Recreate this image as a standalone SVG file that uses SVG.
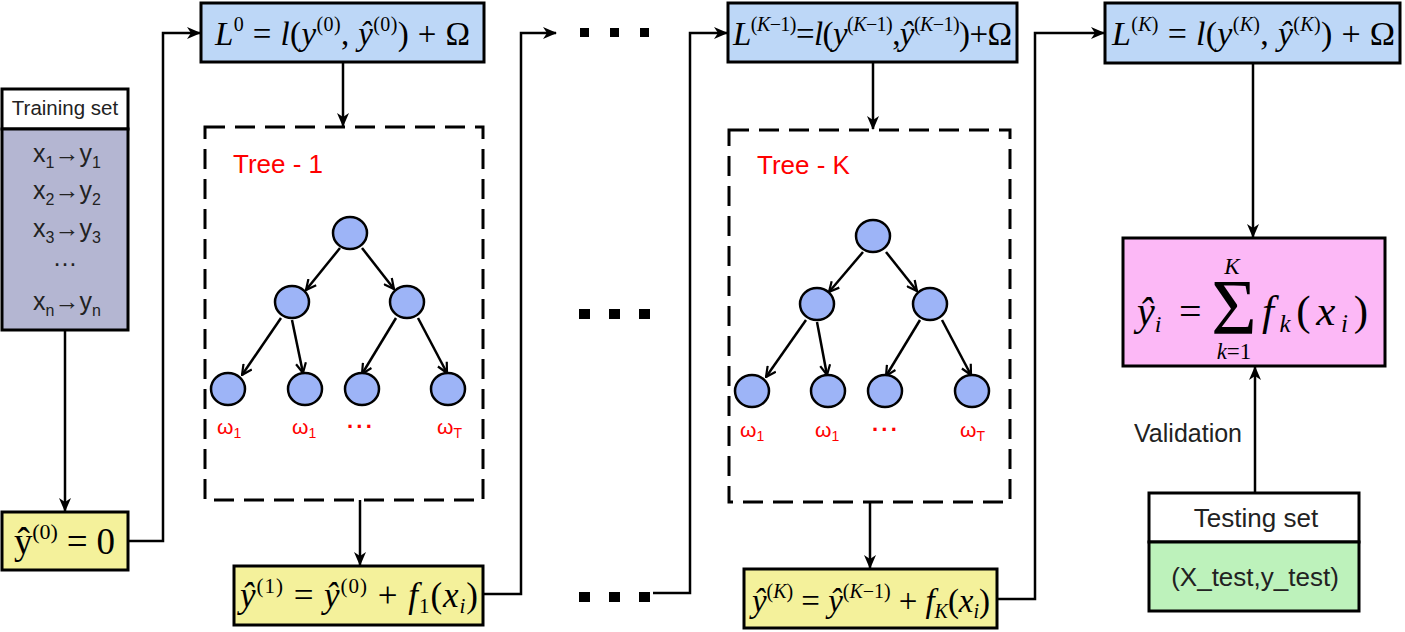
<svg xmlns="http://www.w3.org/2000/svg" width="1405" height="632" viewBox="0 0 1405 632">
<style>
.box{stroke:#000;stroke-width:3}
.conn{fill:none;stroke:#000;stroke-width:2.5}
.tconn{fill:none;stroke:#000;stroke-width:2.5}
.dash{fill:none;stroke:#000;stroke-width:3;stroke-dasharray:20 10}
.node{fill:#9db4f7;stroke:#000;stroke-width:2.5}
.sans{font-family:"Liberation Sans",Arial,sans-serif}
.math{font-family:"Liberation Serif","Times New Roman",serif;font-style:italic}
.up{font-family:"Liberation Serif","Times New Roman",serif}
.red{fill:#ff0000}
.sq{fill:#000}
</style>
<defs>
<marker id="arr" viewBox="0 0 14 12" refX="13" refY="6" markerWidth="14" markerHeight="12" markerUnits="userSpaceOnUse" orient="auto">
<path d="M0,0 L14,6 L0,12 L4,6 z" fill="#000"/>
</marker>
<marker id="tarr" viewBox="0 0 12 12" refX="11" refY="6" markerWidth="12" markerHeight="12" markerUnits="userSpaceOnUse" orient="auto">
<path d="M1,1 L11,6 L1,11" fill="none" stroke="#000" stroke-width="2.2"/>
</marker>
</defs>
<rect width="1405" height="632" fill="#fff"/>

<g id="connectors">
<path class="conn" d="M65,330 V511" marker-end="url(#arr)"/>
<path class="conn" d="M128,541 H163 V33 H200" marker-end="url(#arr)"/>
<path class="conn" d="M343,62 V126" marker-end="url(#arr)"/>
<path class="conn" d="M360,500 V565" marker-end="url(#arr)"/>
<path class="conn" d="M483,594 H521 V33 H556" marker-end="url(#arr)"/>
<path class="conn" d="M653,593 H690 V33 H727" marker-end="url(#arr)"/>
<path class="conn" d="M873,62 V129" marker-end="url(#arr)"/>
<path class="conn" d="M870,502 V568" marker-end="url(#arr)"/>
<path class="conn" d="M997,599 H1035 V33 H1104" marker-end="url(#arr)"/>
<path class="conn" d="M1253,63 V237" marker-end="url(#arr)"/>
<path class="conn" d="M1255,493 V367" marker-end="url(#arr)"/>
</g>

<g id="dots">
<rect class="sq" x="580" y="28" width="9" height="9"/>
<rect class="sq" x="610" y="28" width="9" height="9"/>
<rect class="sq" x="640" y="28" width="9" height="9"/>
<rect class="sq" x="579" y="309" width="11" height="10"/>
<rect class="sq" x="609" y="309" width="11" height="10"/>
<rect class="sq" x="639" y="309" width="11" height="10"/>
<rect class="sq" x="579" y="592" width="11" height="10"/>
<rect class="sq" x="609" y="592" width="11" height="10"/>
<rect class="sq" x="639" y="592" width="11" height="10"/>
</g>

<g id="training-set">
<rect class="box" x="2" y="89" width="126" height="40" fill="#fff"/>
<rect class="box" x="2" y="129" width="126" height="201" fill="#b4b6d2"/>
<text class="sans" x="65" y="115" font-size="20.5" fill="#222" text-anchor="middle">Training set</text>
<g class="sans" font-size="25" fill="#222" text-anchor="middle">
<text x="67" y="162">x<tspan font-size="16" dy="6">1</tspan><tspan dy="-6">→y</tspan><tspan font-size="16" dy="6">1</tspan></text>
<text x="67" y="199">x<tspan font-size="16" dy="6">2</tspan><tspan dy="-6">→y</tspan><tspan font-size="16" dy="6">2</tspan></text>
<text x="67" y="237">x<tspan font-size="16" dy="6">3</tspan><tspan dy="-6">→y</tspan><tspan font-size="16" dy="6">3</tspan></text>
<text x="65" y="266">…</text>
<text x="67" y="310">x<tspan font-size="16" dy="6">n</tspan><tspan dy="-6">→y</tspan><tspan font-size="16" dy="6">n</tspan></text>
</g>
</g>

<g id="y0">
<rect class="box" x="2" y="512" width="126" height="58" fill="#f4f19b"/>
<text class="up" x="14" y="554" font-size="37" textLength="101">ŷ<tspan font-size="22" dy="-15">(0)</tspan><tspan dy="15"> = 0</tspan></text>
</g>

<g id="L0">
<rect class="box" x="201" y="3" width="283" height="59" fill="#bdd7f7"/>
<text class="math" x="215" y="45" font-size="33" textLength="255"><tspan>L</tspan><tspan font-style="normal" font-size="20" dy="-14">0</tspan><tspan font-style="normal" dy="14"> = </tspan><tspan>l</tspan><tspan font-style="normal">(</tspan><tspan>y</tspan><tspan font-style="normal" font-size="20" dy="-14">(0)</tspan><tspan font-style="normal" dy="14">, </tspan><tspan>ŷ</tspan><tspan font-style="normal" font-size="20" dy="-14">(0)</tspan><tspan font-style="normal" dy="14">) + Ω</tspan></text>
</g>

<g id="tree-1">
<rect class="dash" x="205" y="127" width="278" height="373"/>
<text class="sans red" x="233" y="173" font-size="26">Tree - 1</text>
<g class="tconn">
<line x1="340" y1="248" x2="306" y2="290" marker-end="url(#tarr)"/>
<line x1="362" y1="248" x2="394" y2="289" marker-end="url(#tarr)"/>
<line x1="281" y1="318" x2="242" y2="375" marker-end="url(#tarr)"/>
<line x1="292" y1="320" x2="303" y2="373" marker-end="url(#tarr)"/>
<line x1="396" y1="318" x2="362" y2="374" marker-end="url(#tarr)"/>
<line x1="418" y1="318" x2="447" y2="373" marker-end="url(#tarr)"/>
</g>
<ellipse class="node" cx="350" cy="233" rx="17" ry="16"/>
<ellipse class="node" cx="292" cy="302" rx="17" ry="16"/>
<ellipse class="node" cx="407" cy="302" rx="17" ry="16"/>
<ellipse class="node" cx="228" cy="389" rx="17" ry="16"/>
<ellipse class="node" cx="305" cy="389" rx="17" ry="16"/>
<ellipse class="node" cx="362" cy="389" rx="17" ry="16"/>
<ellipse class="node" cx="448" cy="389" rx="17" ry="16"/>
<g class="sans red" font-size="21">
<text x="217" y="434">ω<tspan font-size="14" dy="4">1</tspan></text>
<text x="292" y="434">ω<tspan font-size="14" dy="4">1</tspan></text>
<text x="347" y="434" font-weight="bold" font-size="22" letter-spacing="2">···</text>
<text x="437" y="434">ω<tspan font-size="14" dy="4">T</tspan></text>
</g>
</g>

<g id="y1">
<rect class="box" x="234" y="566" width="249" height="59" fill="#f4f19b"/>
<text class="math" x="240" y="607" font-size="35" textLength="238"><tspan>ŷ</tspan><tspan font-style="normal" font-size="21" dy="-14">(1)</tspan><tspan font-style="normal" dy="14"> = </tspan><tspan>ŷ</tspan><tspan font-style="normal" font-size="21" dy="-14">(0)</tspan><tspan font-style="normal" dy="14"> + </tspan><tspan>f</tspan><tspan font-style="normal" font-size="21" dy="6">1</tspan><tspan font-style="normal" dy="-6">(</tspan><tspan>x</tspan><tspan font-size="21" dy="6">i</tspan><tspan font-style="normal" dy="-6">)</tspan></text>
</g>

<g id="LK1">
<rect class="box" x="728" y="3" width="289" height="59" fill="#bdd7f7"/>
<text class="math" x="733" y="45" font-size="33" textLength="279"><tspan>L</tspan><tspan font-style="normal" font-size="20" dy="-14">(<tspan font-style="italic">K</tspan>−1)</tspan><tspan font-style="normal" dy="14">=</tspan><tspan>l</tspan><tspan font-style="normal">(</tspan><tspan>y</tspan><tspan font-style="normal" font-size="20" dy="-14">(<tspan font-style="italic">K</tspan>−1)</tspan><tspan font-style="normal" dy="14">,</tspan><tspan>ŷ</tspan><tspan font-style="normal" font-size="20" dy="-14">(<tspan font-style="italic">K</tspan>−1)</tspan><tspan font-style="normal" dy="14">)+Ω</tspan></text>
</g>

<g id="tree-K">
<rect class="dash" x="729" y="130" width="281" height="372"/>
<text class="sans red" x="757" y="174" font-size="26">Tree - K</text>
<g class="tconn">
<line x1="863" y1="252" x2="829" y2="292" marker-end="url(#tarr)"/>
<line x1="886" y1="252" x2="917" y2="291" marker-end="url(#tarr)"/>
<line x1="806" y1="320" x2="766" y2="377" marker-end="url(#tarr)"/>
<line x1="817" y1="322" x2="827" y2="375" marker-end="url(#tarr)"/>
<line x1="920" y1="320" x2="886" y2="376" marker-end="url(#tarr)"/>
<line x1="942" y1="320" x2="971" y2="375" marker-end="url(#tarr)"/>
</g>
<ellipse class="node" cx="873" cy="236" rx="17" ry="16"/>
<ellipse class="node" cx="817" cy="304" rx="17" ry="16"/>
<ellipse class="node" cx="930" cy="304" rx="17" ry="16"/>
<ellipse class="node" cx="752" cy="391" rx="17" ry="16"/>
<ellipse class="node" cx="828" cy="391" rx="17" ry="16"/>
<ellipse class="node" cx="885" cy="391" rx="17" ry="16"/>
<ellipse class="node" cx="972" cy="391" rx="17" ry="16"/>
<g class="sans red" font-size="21">
<text x="740" y="437">ω<tspan font-size="14" dy="4">1</tspan></text>
<text x="815" y="437">ω<tspan font-size="14" dy="4">1</tspan></text>
<text x="872" y="437" font-weight="bold" font-size="22" letter-spacing="2">···</text>
<text x="960" y="437">ω<tspan font-size="14" dy="4">T</tspan></text>
</g>
</g>

<g id="yK">
<rect class="box" x="744" y="569" width="253" height="59" fill="#f4f19b"/>
<text class="math" x="752" y="612" font-size="33" textLength="238"><tspan>ŷ</tspan><tspan font-style="normal" font-size="20" dy="-14">(<tspan font-style="italic">K</tspan>)</tspan><tspan font-style="normal" dy="14"> = </tspan><tspan>ŷ</tspan><tspan font-style="normal" font-size="20" dy="-14">(<tspan font-style="italic">K</tspan>−1)</tspan><tspan font-style="normal" dy="14"> + </tspan><tspan>f</tspan><tspan font-size="20" dy="6">K</tspan><tspan font-style="normal" dy="-6">(</tspan><tspan>x</tspan><tspan font-size="20" dy="6">i</tspan><tspan font-style="normal" dy="-6">)</tspan></text>
</g>

<g id="LK">
<rect class="box" x="1105" y="3" width="295" height="60" fill="#bdd7f7"/>
<text class="math" x="1112" y="45" font-size="34" textLength="283"><tspan>L</tspan><tspan font-style="normal" font-size="20" dy="-14">(<tspan font-style="italic">K</tspan>)</tspan><tspan font-style="normal" dy="14"> = </tspan><tspan>l</tspan><tspan font-style="normal">(</tspan><tspan>y</tspan><tspan font-style="normal" font-size="20" dy="-14">(<tspan font-style="italic">K</tspan>)</tspan><tspan font-style="normal" dy="14">, </tspan><tspan>ŷ</tspan><tspan font-style="normal" font-size="20" dy="-14">(<tspan font-style="italic">K</tspan>)</tspan><tspan font-style="normal" dy="14">) + Ω</tspan></text>
</g>

<g id="sum">
<rect class="box" x="1123" y="238" width="262" height="128" fill="#fcb8f6"/>
<text class="math" x="1137" y="325" font-size="40">ŷ<tspan font-size="24" dy="7">i</tspan></text>
<text class="up" x="1179" y="325" font-size="40">=</text>
<text class="up" x="1234" y="333" font-size="78" text-anchor="middle">Σ</text>
<text class="math" x="1232" y="274" font-size="23" text-anchor="middle">K</text>
<text class="math" x="1234" y="359" font-size="23" text-anchor="middle">k<tspan font-style="normal">=1</tspan></text>
<text class="math" x="1262" y="325" font-size="43" textLength="106">f<tspan font-size="25" dy="7">k</tspan><tspan font-style="normal" dy="-7">(</tspan>x<tspan font-size="25" dy="7">i</tspan><tspan font-style="normal" dy="-7">)</tspan></text>
</g>

<text class="sans" x="1242" y="442" font-size="25" fill="#222" text-anchor="end">Validation</text>

<g id="testing-set">
<rect class="box" x="1149" y="493" width="210" height="49" fill="#fff"/>
<rect class="box" x="1149" y="542" width="210" height="69" fill="#bdf2bb"/>
<text class="sans" x="1256" y="527" font-size="26" fill="#222" text-anchor="middle">Testing set</text>
<text class="sans" x="1255" y="586" font-size="26" fill="#222" text-anchor="middle">(X_test,y_test)</text>
</g>
</svg>
